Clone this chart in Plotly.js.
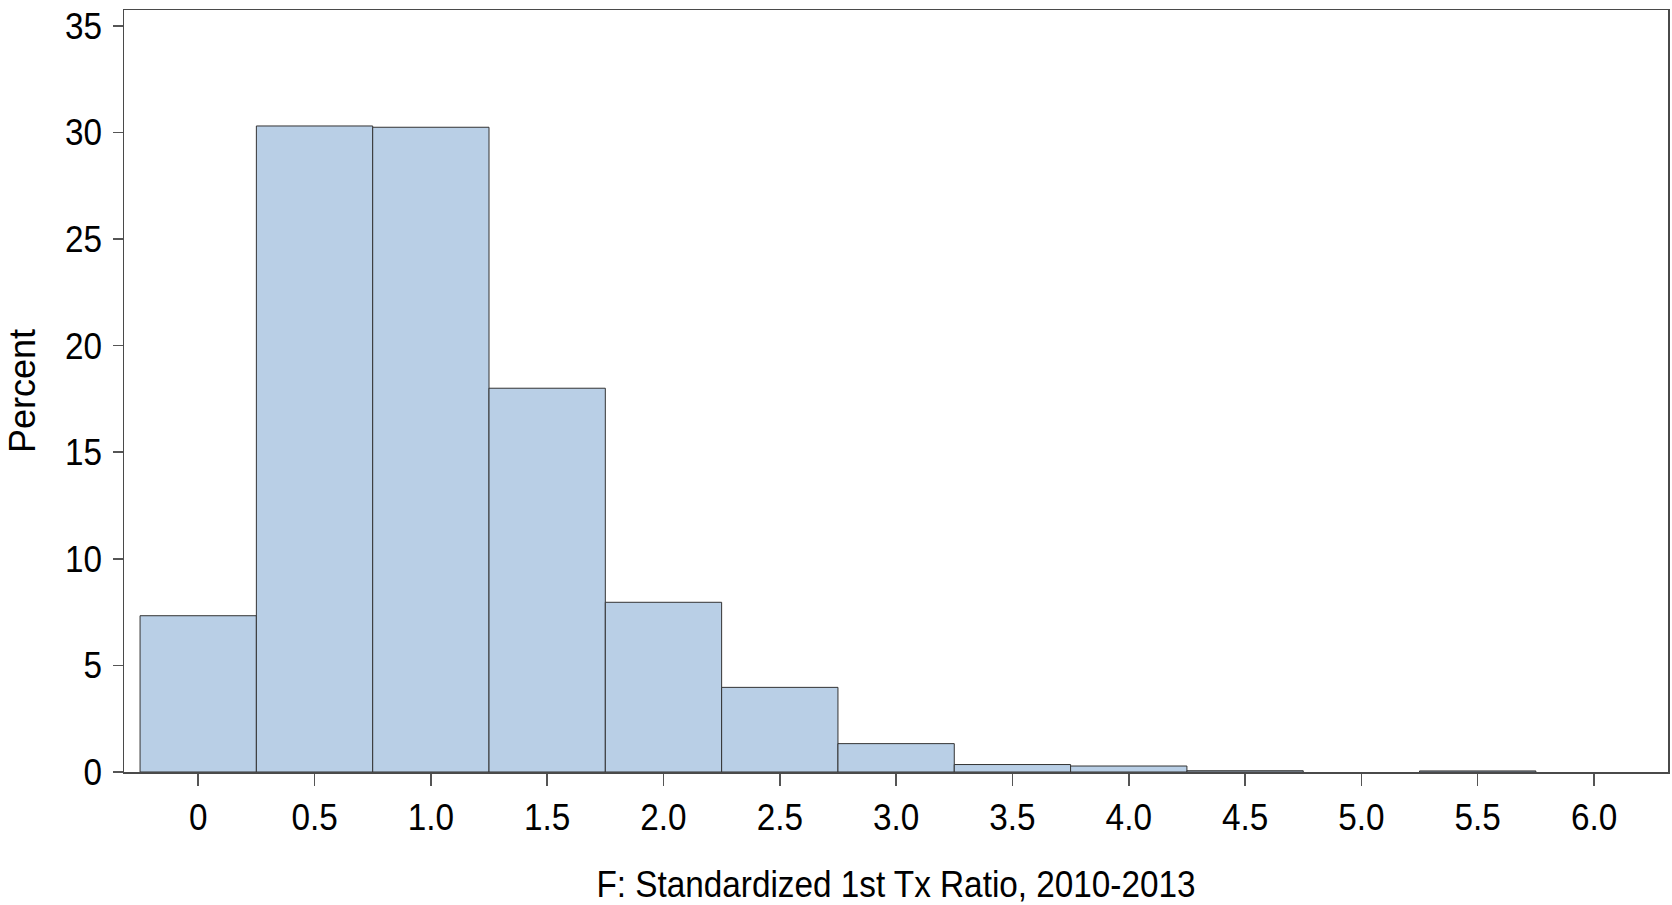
<!DOCTYPE html>
<html>
<head>
<meta charset="utf-8">
<script src="https://cdn.plot.ly/plotly-3.0.1.min.js"></script>
<style>
html,body{margin:0;padding:0;background:#fff;}
#chart{width:1672px;height:905px;}
</style>
</head>
<body>
<div id="chart"></div>
<script>
// Histogram bin midpoints (bin width 0.5) and percent per bin
const binCenters = [0, 0.5, 1.0, 1.5, 2.0, 2.5, 3.0, 3.5, 4.0, 4.5, 5.0, 5.5, 6.0];
const percents   = [7.33, 30.30, 30.24, 18.0, 7.96, 3.97, 1.33, 0.35, 0.28, 0.06, 0, 0.05, 0];
const binWidth = 0.5;

const xTickVals = [0, 0.5, 1.0, 1.5, 2.0, 2.5, 3.0, 3.5, 4.0, 4.5, 5.0, 5.5, 6.0];
const xTickText = ["0", "0.5", "1.0", "1.5", "2.0", "2.5", "3.0", "3.5", "4.0", "4.5", "5.0", "5.5", "6.0"];
const yTickVals = [0, 5, 10, 15, 20, 25, 30, 35];
const yTickText = ["0", "5", "10", "15", "20", "25", "30", "35"];

const xTitle = "F: Standardized 1st Tx Ratio, 2010-2013";
const yTitle = "Percent";

const font = '"Liberation Sans", Arial, sans-serif';

const trace = {
  type: 'bar',
  x: binCenters,
  y: percents,
  width: binCenters.map(() => binWidth),
  marker: {
    color: '#B9CFE6',
    // empty bins get no outline, as in the original
    line: { color: '#333333', width: percents.map(v => (v > 0 ? 1 : 0)) }
  },
  hoverinfo: 'x+y'
};

const layout = {
  width: 1672,
  height: 905,
  margin: { l: 123.5, r: 4.3, t: 9.5, b: 133.3, pad: 0 },
  paper_bgcolor: '#ffffff',
  plot_bgcolor: '#ffffff',
  showlegend: false,
  bargap: 0,
  xaxis: {
    range: [-0.319, 6.318],
    tickmode: 'array',
    tickvals: xTickVals,
    ticktext: xTickText,
    ticks: 'outside',
    ticklen: 12,
    tickwidth: 1.5,
    tickcolor: '#555',
    showline: true,
    linecolor: '#4a4a4a',
    linewidth: 1.5,
    mirror: true,
    showgrid: false,
    zeroline: false,
    ticklabelstandoff: 0,
    automargin: false,
    tickfont: { family: font, size: 37, color: '#000' },
    title: { text: xTitle, font: { family: font, size: 37, color: '#000' }, standoff: 36 }
  },
  yaxis: {
    range: [0, 35.74],
    tickmode: 'array',
    tickvals: yTickVals,
    ticktext: yTickText,
    ticks: 'outside',
    ticklen: 10,
    tickwidth: 1.5,
    tickcolor: '#555',
    showline: true,
    linecolor: '#4a4a4a',
    linewidth: 1.5,
    mirror: true,
    showgrid: false,
    zeroline: false,
    ticklabelstandoff: 3,
    automargin: false,
    tickfont: { family: font, size: 37, color: '#000' },
    title: { text: yTitle, font: { family: font, size: 36, color: '#000' }, standoff: 14 }
  }
};

Plotly.newPlot('chart', [trace], layout, { displayModeBar: false, staticPlot: true }).then(gd => {
  // the original's horizontal text is condensed; compress glyphs horizontally
  gd.querySelectorAll('.xtick text, .ytick text, .g-xtitle text').forEach(t => {
    const w = t.getComputedTextLength();
    t.setAttribute('textLength', (w * 0.9).toFixed(1));
    t.setAttribute('lengthAdjust', 'spacingAndGlyphs');
  });
});
</script>
</body>
</html>
